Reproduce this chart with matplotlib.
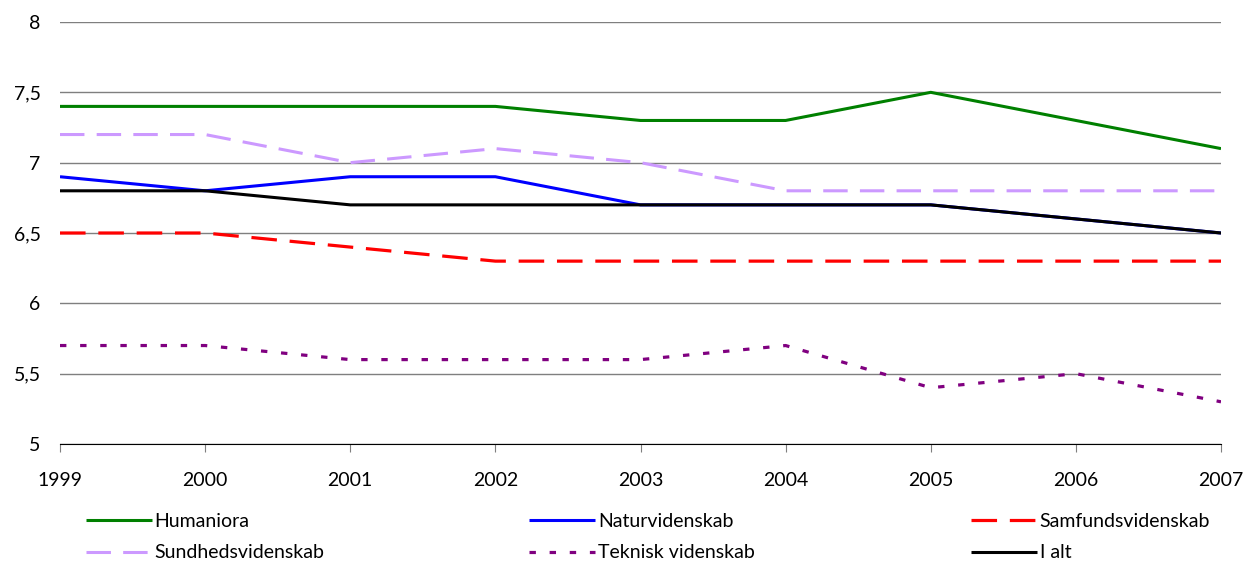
import numpy as np
import matplotlib.pyplot as plt
from matplotlib.lines import Line2D

plt.rcParams['font.family'] = ['Lato', 'DejaVu Sans']

# Data
years = [1999, 2000, 2001, 2002, 2003, 2004, 2005, 2006, 2007]
humaniora = [7.4, 7.4, 7.4, 7.4, 7.3, 7.3, 7.5, 7.3, 7.1]
naturvidenskab = [6.9, 6.8, 6.9, 6.9, 6.7, 6.7, 6.7, 6.6, 6.5]
samfundsvidenskab = [6.5, 6.5, 6.4, 6.3, 6.3, 6.3, 6.3, 6.3, 6.3]
sundhedsvidenskab = [7.2, 7.2, 7.0, 7.1, 7.0, 6.8, 6.8, 6.8, 6.8]
teknisk = [5.7, 5.7, 5.6, 5.6, 5.6, 5.7, 5.4, 5.5, 5.3]
i_alt = [6.8, 6.8, 6.7, 6.7, 6.7, 6.7, 6.7, 6.6, 6.5]
y_ticks = [5, 5.5, 6, 6.5, 7, 7.5, 8]
y_labels = ['5', '5,5', '6', '6,5', '7', '7,5', '8']

fig = plt.figure(figsize=(12.46, 5.65), dpi=100)
ax = fig.add_axes([60/1246, 1 - 444/565, (1221-60)/1246, (444-22)/565])

series = [
    ('Humaniora', humaniora, dict(color='#008000', lw=2.2)),
    ('Naturvidenskab', naturvidenskab, dict(color='#0000ff', lw=2.2)),
    ('Samfundsvidenskab', samfundsvidenskab, dict(color='#ff0000', lw=2.3, dashes=(8, 4))),
    ('Sundhedsvidenskab', sundhedsvidenskab, dict(color='#cc99ff', lw=2.2, dashes=(8, 4))),
    ('Teknisk videnskab', teknisk, dict(color='#800080', lw=2.3, dashes=(2, 4.3))),
    ('I alt', i_alt, dict(color='#000000', lw=2.2)),
]

handles = {}
for name, vals, style in series:
    ln, = ax.plot(years, vals, label=name, solid_capstyle='butt', dash_capstyle='butt', **style)
    handles[name] = ln

ax.set_xlim(1999, 2007)
ax.set_ylim(5, 8)
ax.set_yticks(y_ticks)
ax.set_yticklabels(y_labels)
ax.set_xticks(years)
ax.grid(axis='y', color='#7f7f7f', lw=1)
ax.set_axisbelow(True)
for s in ['top', 'right', 'left']:
    ax.spines[s].set_visible(False)
ax.spines['bottom'].set_color('#000000')
ax.tick_params(axis='y', length=0, labelsize=14, pad=14)
ax.tick_params(axis='x', length=6, direction='out', color='#7f7f7f', labelsize=14, pad=14)

# Legend in three columns
cols = [['Humaniora', 'Sundhedsvidenskab'],
        ['Naturvidenskab', 'Teknisk videnskab'],
        ['Samfundsvidenskab', 'I alt']]
xs = [76, 519, 961]
for x, names in zip(xs, cols):
    leg = fig.legend([handles[n] for n in names], names,
                     loc='upper left', bbox_to_anchor=(x/1246, 1 - 503/565),
                     frameon=False, fontsize=14, handlelength=3.4,
                     handletextpad=0.15, labelspacing=0.75, borderpad=0)

fig.savefig('out.png', dpi=100)
